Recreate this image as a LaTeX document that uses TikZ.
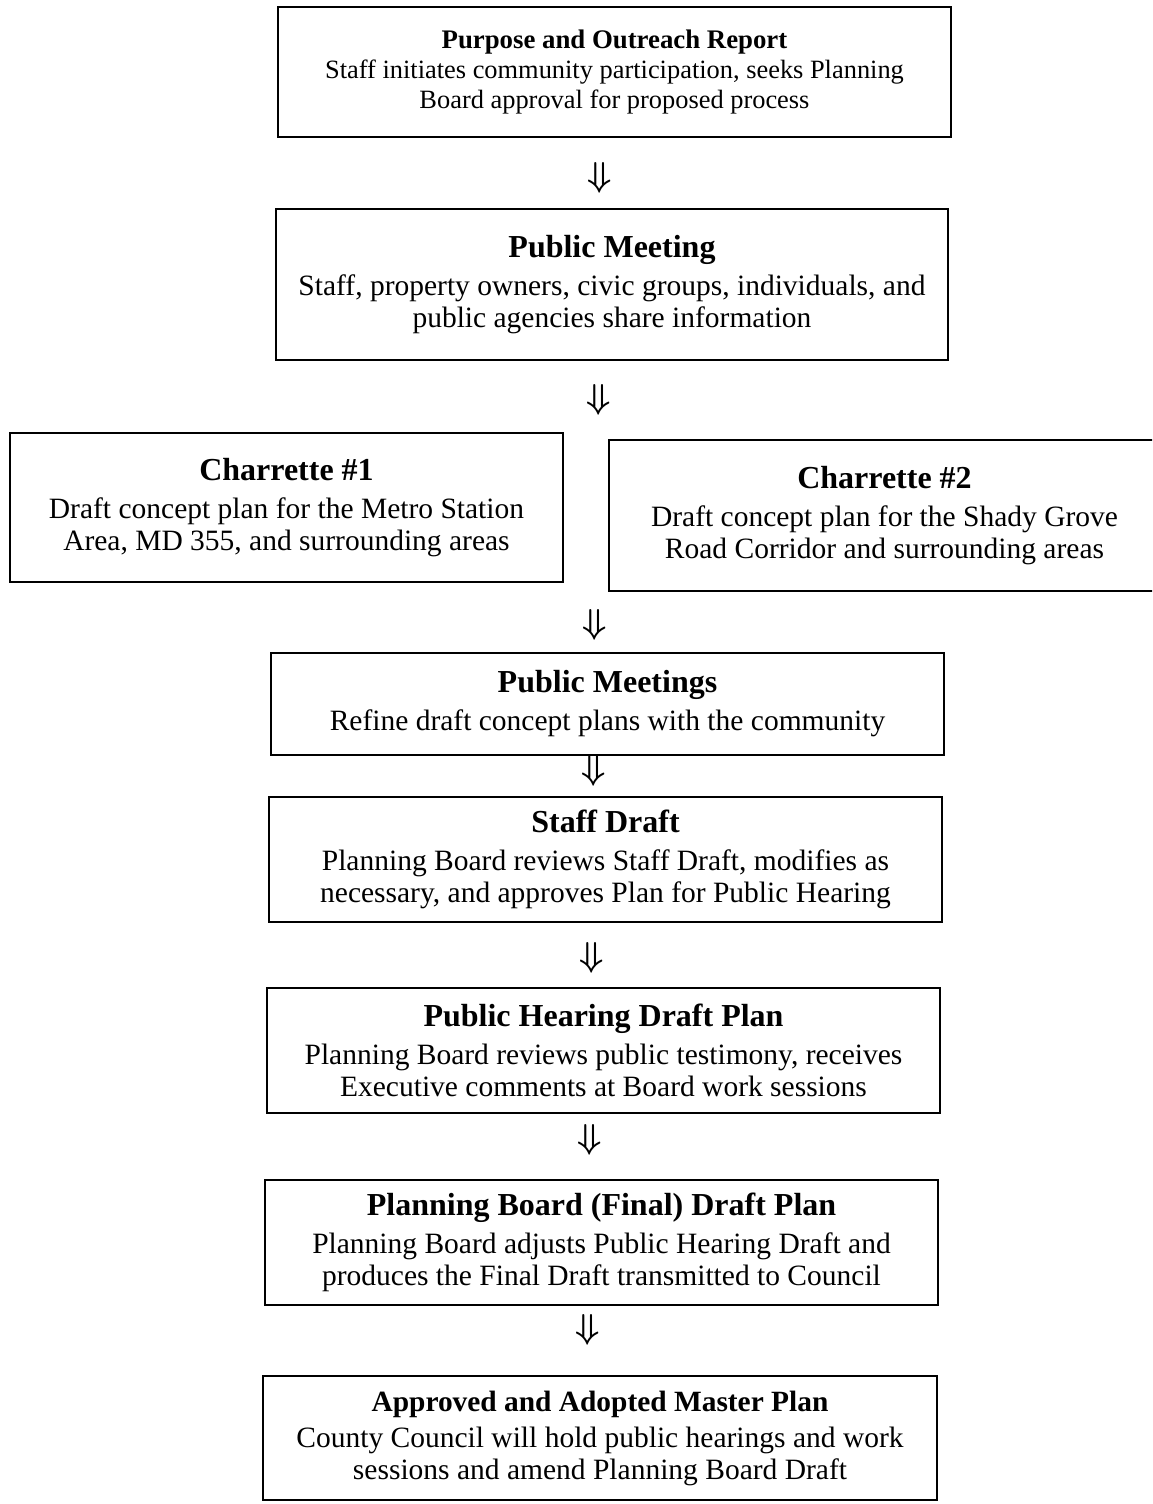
\documentclass[tikz,border=0pt]{standalone}
\usepackage{fontspec}
\usepackage{bm}
\setmainfont{Liberation Serif}
\tikzset{
  stepbox/.style={draw, line width=1.2pt, align=center, inner sep=2pt,
    font=\fontsize{14.75}{16}\selectfont},
  dnarrow/.style={inner sep=0pt, xshift=-6.5pt, font=\fontsize{16}{16}\selectfont}
}
\newcommand{\boxtitle}[1]{{\fontsize{16}{18}\selectfont\bfseries #1}\\[3pt]}
\begin{document}
\begin{tikzpicture}[x=0.5pt, y=-0.5pt]
    \useasboundingbox (0, 0) rectangle (1152, 1504);
    \clip (0, 0) rectangle (1152, 1504);

    \node[stepbox, minimum width=336.5pt, minimum height=65pt,
          font=\fontsize{13.2}{15}\selectfont] (outreach) at (614.5, 72)
        {{\fontsize{13.4}{15}\selectfont\bfseries Purpose and Outreach Report}\\
         Staff initiates community participation, seeks Planning\\
         Board approval for proposed process};
    \node[stepbox, minimum width=336pt, minimum height=75.5pt] (meeting) at (612, 284.5)
        {\boxtitle{Public Meeting}
         Staff, property owners, civic groups, individuals, and\\
         public agencies share information};

    \node[stepbox, minimum width=276.5pt, minimum height=74.5pt] (charA) at (286.5, 507.5)
        {\boxtitle{Charrette \#1}
         Draft concept plan for the Metro Station\\
         Area, MD 355, and surrounding areas};
    \node[stepbox, minimum width=275.5pt, minimum height=75.5pt] (charB) at (884.5, 515.5)
        {\boxtitle{Charrette \#2}
         Draft concept plan for the Shady Grove\\
         Road Corridor and surrounding areas};

    \node[stepbox, minimum width=336.5pt, minimum height=51pt] (meetings) at (607.5, 704)
        {\boxtitle{Public Meetings}
         Refine draft concept plans with the community};
    \node[stepbox, minimum width=336.5pt, minimum height=62.5pt] (staff) at (605.5, 859.5)
        {\boxtitle{Staff Draft}
         Planning Board reviews Staff Draft, modifies as\\
         necessary, and approves Plan for Public Hearing};
    \node[stepbox, minimum width=336.5pt, minimum height=62.5pt] (hearing) at (603.5, 1050.5)
        {\boxtitle{Public Hearing Draft Plan}
         Planning Board reviews public testimony, receives\\
         Executive comments at Board work sessions};
    \node[stepbox, minimum width=336.5pt, minimum height=62.5pt] (final) at (601.5, 1242.5)
        {\boxtitle{Planning Board (Final) Draft Plan}
         Planning Board adjusts Public Hearing Draft and\\
         produces the Final Draft transmitted to Council};
    \node[stepbox, minimum width=337pt, minimum height=62pt] (adopted) at (600, 1438)
        {{\fontsize{14.7}{17}\selectfont\bfseries Approved and Adopted Master Plan}\\[2pt]
         County Council will hold public hearings and work\\
         sessions and amend Planning Board Draft};

    % arrows between the steps
    \path (outreach.south) -- node[dnarrow, pos=.57] (a1) {$\bm{\Downarrow}$} (meeting.north);
    \path (meeting.south) -- node[dnarrow, pos=.55] (a2) {$\bm{\Downarrow}$} (meeting.south |- charA.north);
    \path (meetings.north |- charB.south) -- node[dnarrow, pos=.55] (a3) {$\bm{\Downarrow}$} (meetings.north);
    \path (meetings.south) -- node[dnarrow, pos=.36] (a4) {$\bm{\Downarrow}$} (staff.north);
    \path (staff.south) -- node[dnarrow, pos=.55] (a5) {$\bm{\Downarrow}$} (hearing.north);
    \path (hearing.south) -- node[dnarrow, pos=.4] (a6) {$\bm{\Downarrow}$} (final.north);
    \path (final.south) -- node[dnarrow, pos=.35] (a7) {$\bm{\Downarrow}$} (adopted.north);
\end{tikzpicture}
\end{document}
